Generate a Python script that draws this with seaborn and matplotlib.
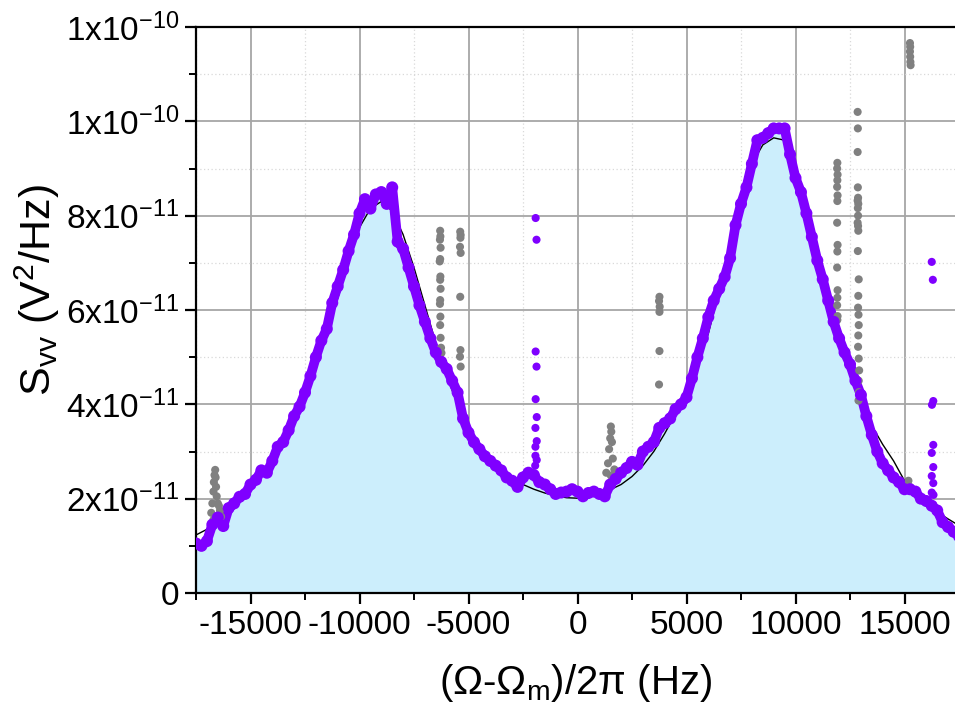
import numpy as np
import pandas as pd
import matplotlib
matplotlib.use("Agg")
import matplotlib.pyplot as plt
import seaborn as sns
from matplotlib.ticker import MultipleLocator

# ---------------- data ----------------
# frequency grid of the measured spectrum (Hz)
freq = [-17500, -17250, -17000, -16750, -16500, -16250, -16000, -15750, -15500, -15250,
        -15000, -14750, -14500, -14250, -14000, -13750, -13500, -13250, -13000, -12750,
        -12500, -12250, -12000, -11750, -11500, -11250, -11000, -10750, -10500, -10250,
        -10000, -9750, -9500, -9250, -9000, -8750, -8500, -8250, -8000, -7750,
        -7500, -7250, -7000, -6750, -6500, -6250, -6000, -5750, -5500, -5250,
        -5000, -4750, -4500, -4250, -4000, -3750, -3500, -3250, -3000, -2750,
        -2500, -2250, -2000, -1750, -1500, -1250, -1000, -750, -500, -250,
        0, 250, 500, 750, 1000, 1250, 1500, 1750, 2000, 2250,
        2500, 2750, 3000, 3250, 3500, 3750, 4000, 4250, 4500, 4750,
        5000, 5250, 5500, 5750, 6000, 6250, 6500, 6750, 7000, 7250,
        7500, 7750, 8000, 8250, 8500, 8750, 9000, 9250, 9500, 9750,
        10000, 10250, 10500, 10750, 11000, 11250, 11500, 11750, 12000, 12250,
        12500, 12750, 13000, 13250, 13500, 13750, 14000, 14250, 14500, 14750,
        15000, 15250, 15500, 15750, 16000, 16250, 16500, 16750, 17000, 17250,
        17500]
# measured PSD (units of 1e-11 V^2/Hz)
psd = [1.05, 1.00, 1.10, 1.45, 1.60, 1.42, 1.80, 1.90, 2.04, 2.10,
       2.30, 2.40, 2.60, 2.55, 2.80, 3.10, 3.20, 3.45, 3.75, 3.95,
       4.25, 4.60, 5.00, 5.35, 5.60, 6.15, 6.50, 6.85, 7.25, 7.60,
       8.05, 8.35, 8.15, 8.45, 8.50, 8.25, 8.60, 7.45, 7.30, 6.90,
       6.50, 6.10, 5.75, 5.40, 5.10, 4.90, 4.75, 4.50, 4.25, 3.70,
       3.40, 3.20, 3.05, 2.90, 2.80, 2.70, 2.60, 2.45, 2.38, 2.25,
       2.45, 2.55, 2.50, 2.35, 2.30, 2.20, 2.10, 2.13, 2.15, 2.20,
       2.15, 2.05, 2.12, 2.15, 2.10, 2.05, 2.30, 2.42, 2.55, 2.65,
       2.78, 2.72, 3.00, 3.10, 3.20, 3.50, 3.60, 3.70, 3.90, 4.00,
       4.15, 4.55, 5.00, 5.40, 5.85, 6.20, 6.45, 6.70, 7.10, 7.80,
       8.25, 8.60, 9.10, 9.60, 9.65, 9.75, 9.85, 9.85, 9.85, 9.30,
       8.80, 8.50, 8.05, 7.55, 7.05, 6.65, 6.20, 5.75, 5.40, 5.10,
       4.85, 4.50, 4.20, 3.75, 3.35, 3.00, 2.75, 2.60, 2.45, 2.35,
       2.20, 2.20, 2.15, 2.00, 1.95, 1.85, 1.75, 1.50, 1.40, 1.30,
       1.20]

# fit curve (units of 1e-11 V^2/Hz)
fit_freq = [-17500, -17000, -16500, -16000, -15500, -15000, -14500, -14000, -13500, -13000,
            -12500, -12000, -11500, -11000, -10500, -10000, -9500, -9000, -8500, -8000,
            -7500, -7000, -6500, -6000, -5500, -5000, -4500, -4000, -3500, -3000,
            -2500, -2000, -1500, -1000, -500, 0, 500, 1000, 1500, 2000,
            2500, 3000, 3500, 4000, 4500, 5000, 5500, 6000, 6500, 7000,
            7500, 8000, 8500, 9000, 9500, 10000, 10500, 11000, 11500, 12000,
            12500, 13000, 13500, 14000, 14500, 15000, 15500, 16000, 16500, 17000,
            17500]
fit_psd = [1.23, 1.35, 1.48, 1.65, 1.93, 2.25, 2.50, 2.80, 3.20, 3.70,
           4.20, 4.80, 5.50, 6.25, 7.00, 7.75, 8.15, 8.30, 8.10, 7.60,
           6.90, 6.10, 5.30, 4.60, 4.00, 3.50, 3.15, 2.85, 2.60, 2.43,
           2.30, 2.20, 2.12, 2.06, 2.02, 2.01, 2.04, 2.10, 2.19, 2.30,
           2.47, 2.70, 3.00, 3.38, 3.80, 4.25, 4.85, 5.50, 6.40, 7.35,
           8.30, 9.10, 9.50, 9.65, 9.60, 8.95, 8.15, 7.35, 6.40, 5.45,
           4.65, 4.10, 3.55, 3.15, 2.80, 2.38, 2.12, 1.90, 1.72, 1.57,
           1.43]

# masked (grey) outlier points
gray_x = [-16800, -16750, -16700, -16680, -16650, -16620, -16600, -16580, -16550, -16500,
          -16450, -16400, -16350, -16700,
          -6300, -6290, -6310, -6280, -6300, -6320, -6290, -6300, -6280, -6300,
          -6310, -6290, -6300, -6280, -6260, -6240,
          -5380, -5360, -5370, -5390, -5360, -5380, -5370, -5390, -5360,
          1320, 1400, 1450, 1500, 1530, 1550, 1580, 1620, 1690, 1530,
          3760, 3740, 3770, 3760, 3760, 3740,
          11920, 11910, 11930, 11920, 11910, 11930, 11920, 11910, 11930, 11920,
          11910, 11930, 11920, 11910, 11930, 11920,
          12850, 12860, 12850, 12860, 12870, 12850, 12880, 12860, 12870, 12850,
          12870, 12880, 12860, 12900, 12880, 12870, 12890, 12900, 12880, 12870,
          12900, 12920, 12900, 12910, 12890,
          15250, 15260, 15250, 15260, 15270, 15280,
          15180, 15250]
gray_y = [1.70, 1.90, 2.15, 2.35, 2.50, 2.61, 2.45, 2.25, 2.05, 1.90,
          1.85, 1.75, 1.62, 1.55,
          7.68, 7.56, 7.49, 7.32, 7.08, 7.03, 6.71, 6.64, 6.45, 6.21,
          6.13, 5.86, 5.68, 5.41, 5.20, 5.09,
          7.66, 7.59, 7.53, 7.34, 7.21, 6.28, 5.15, 5.01, 4.80,
          2.55, 2.75, 3.05, 3.28, 3.53, 3.42, 3.20, 2.85, 2.62, 2.49,
          6.28, 6.19, 6.07, 5.96, 5.13, 4.42,
          9.12, 9.00, 8.87, 8.75, 8.61, 8.43, 8.31, 7.85, 7.38, 7.24,
          6.90, 6.42, 6.26, 6.10, 5.87, 5.79,
          10.20, 9.85, 9.35, 8.60, 8.38, 8.32, 8.25, 8.16, 8.00, 7.85,
          7.78, 7.68, 7.25, 6.65, 6.30, 6.05, 5.90, 5.68, 5.46, 5.22,
          4.97, 4.72, 4.50, 4.26, 4.08,
          11.66, 11.58, 11.48, 11.37, 11.26, 11.19,
          2.38, 2.25]

# purple spikes outside the band
spike_x = [-1920, -1880, -1920, -1880, -1920, -1870, -1930, -1870, -1930, -1930, -1870, -1940,
           16250, 16300, 16260, 16320, 16320, 16250, 16320, 16250, 16320, 16250, 16330]
spike_y = [7.95, 7.49, 5.12, 4.80, 4.11, 3.73, 3.50, 3.22, 3.10, 2.91, 2.82, 2.70,
           7.02, 6.64, 3.99, 4.07, 3.14, 2.97, 2.67, 2.48, 2.33, 2.13, 2.08]

ytick_vals = [0, 2, 4, 6, 8, 10, 12]
ytick_labels = ["0", "2x10$^{-11}$", "4x10$^{-11}$", "6x10$^{-11}$", "8x10$^{-11}$",
                "1x10$^{-10}$", "1x10$^{-10}$"]
xtick_vals = [-15000, -10000, -5000, 0, 5000, 10000, 15000]

# ---------------- style ----------------
sns.set_theme(style="white")
plt.rcParams["font.family"] = ["Liberation Sans", "DejaVu Sans"]
plt.rcParams["mathtext.fontset"] = "custom"
plt.rcParams["mathtext.rm"] = "Liberation Sans"
plt.rcParams["mathtext.it"] = "Liberation Sans:italic"
plt.rcParams["mathtext.bf"] = "Liberation Sans:bold"
plt.rcParams["axes.unicode_minus"] = False
plt.rcParams["text.color"] = "black"
plt.rcParams["axes.labelcolor"] = "black"
plt.rcParams["xtick.color"] = "black"
plt.rcParams["ytick.color"] = "black"

S = 1e-11
data = pd.DataFrame({"f": freq, "S": np.array(psd) * S})
fitdf = pd.DataFrame({"f": fit_freq, "S": np.array(fit_psd) * S})
grey = pd.DataFrame({"f": gray_x, "S": np.array(gray_y) * S})
spikes = pd.DataFrame({"f": spike_x, "S": np.array(spike_y) * S})

PURPLE = "#7f00ff"

fig = plt.figure(figsize=(9.55, 7.2), dpi=100)
ax = fig.add_axes([196 / 955, 127 / 720, 763 / 955, 566 / 720])

ax.set_xlim(-17500, 17500)
ax.set_ylim(0, 12 * S)

# grid below everything
ax.set_axisbelow(True)
ax.xaxis.set_major_locator(MultipleLocator(5000))
ax.xaxis.set_minor_locator(MultipleLocator(2500))
ax.set_yticks([v * S for v in ytick_vals])
ax.set_yticklabels(ytick_labels)
ax.yaxis.set_minor_locator(MultipleLocator(1 * S))
ax.grid(which="major", color="#a6a6a6", linewidth=1.3, linestyle="-", zorder=0)
ax.grid(which="minor", color="#d9d9d9", linewidth=0.9, linestyle=(0, (1, 2)), zorder=0)

# filled area under data
ax.fill_between(data["f"], data["S"], 0, color="#cceefc", linewidth=0, zorder=1)

# dense band of measured points (line + dots)
sns.lineplot(data=data, x="f", y="S", ax=ax, color=PURPLE, linewidth=7,
             zorder=4, legend=False, solid_capstyle="round", solid_joinstyle="round")

# fit
sns.lineplot(data=fitdf, x="f", y="S", ax=ax, color="black", linewidth=1.0,
             zorder=3, legend=False)

# data points
sns.scatterplot(data=grey, x="f", y="S", ax=ax, color="#808080", s=34,
                edgecolor="none", zorder=4, legend=False)
sns.scatterplot(data=data, x="f", y="S", ax=ax, color=PURPLE, s=75,
                edgecolor="none", zorder=5, legend=False)
sns.scatterplot(data=spikes, x="f", y="S", ax=ax, color=PURPLE, s=34,
                edgecolor="none", zorder=5, legend=False)

ax.set_xticks(xtick_vals)
ax.set_xticklabels([str(v) for v in xtick_vals])

# spines and ticks
for side in ["left", "top", "bottom", "right"]:
    ax.spines[side].set_visible(True)
    ax.spines[side].set_color("black")
    ax.spines[side].set_linewidth(1.6)
ax.tick_params(axis="both", which="major", direction="out", length=8, width=1.6,
               colors="black", labelcolor="black", labelsize=24, pad=4)
ax.tick_params(axis="both", which="minor", direction="out", length=5, width=1.4,
               colors="black")
ax.tick_params(top=False, right=False, which="both")
ax.tick_params(left=True, bottom=True, which="both")

ax.set_xlabel("(Ω-Ω$_{\\mathrm{m}}$)/2π (Hz)", fontsize=29, color="black")
ax.set_ylabel("S$_{\\mathrm{vv}}$ (V$^{2}$/Hz)", fontsize=31, color="black")
ax.xaxis.set_label_coords(0.497, -0.122)
ax.yaxis.set_label_coords(-0.175, 0.535)

fig.savefig("out.png", dpi=100)
